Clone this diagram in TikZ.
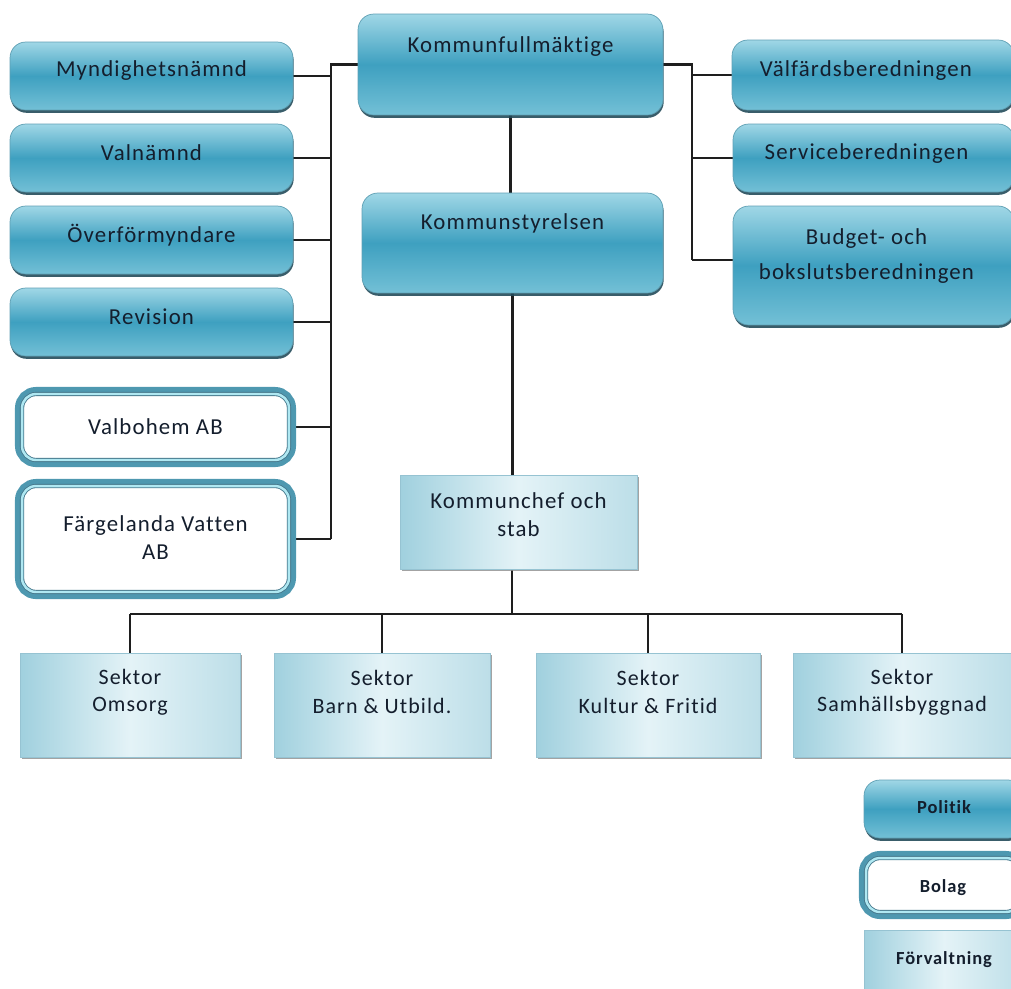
\documentclass[tikz,border=0pt]{standalone}
\usepackage{fontspec}
\setmainfont{Carlito}[LetterSpace=5, Ligatures=NoCommon]
\usetikzlibrary{shadows,backgrounds}

\definecolor{polTop}{RGB}{160,215,230}
\definecolor{polMid}{RGB}{62,160,192}
\definecolor{polBot}{RGB}{115,192,214}
\definecolor{polEdge}{RGB}{95,160,180}
\definecolor{polShadow}{RGB}{35,75,90}
\definecolor{bolRing}{RGB}{78,152,176}
\definecolor{bolCyan}{RGB}{175,232,242}
\definecolor{bolEdge}{RGB}{70,120,140}
\definecolor{forvA}{RGB}{160,208,222}
\definecolor{forvB}{RGB}{228,243,247}
\definecolor{forvEdge}{RGB}{150,195,210}
\definecolor{forvShadow}{RGB}{140,140,140}
\definecolor{lineCol}{RGB}{30,30,30}
\definecolor{txtCol}{RGB}{20,30,45}

\begin{document}
\begin{tikzpicture}[x=0.02cm, y=-0.02cm,
    every node/.style={inner sep=0pt, text=txtCol},
    every label/.style={font=\fontsize{13}{16}\selectfont, align=center},
    politik/.style={draw=polEdge, line width=0.4pt, rounded corners=9pt,
        top color=polTop, bottom color=polBot, middle color=polMid,
        drop shadow={shadow xshift=0.4pt, shadow yshift=-1.6pt, fill=polShadow, opacity=0.9}},
    bolag/.style={rounded corners=8pt, fill=white,
        preaction={draw=bolRing, line width=8pt},
        postaction={draw=bolEdge, line width=0.5pt, double=bolCyan, double distance=1.4pt}},
    forv/.style={draw=forvEdge, line width=0.3pt,
        left color=forvA, right color=forvA!70!white, middle color=forvB,
        drop shadow={shadow xshift=1.2pt, shadow yshift=-1.4pt, fill=forvShadow, opacity=0.8}},
    legend/.style={font=\fontsize{10.5}{12}\selectfont\bfseries},
    sektor/.style={font=\fontsize{12.5}{15.5}\selectfont},
    conn/.style={draw=lineCol, line width=1.2pt}]
\useasboundingbox (0,0) rectangle (1011,988);
\clip (0,0) rectangle (1011,988);

% politik
\node (kf) [politik, minimum width=6.1cm, minimum height=2.02cm] at (510.5,64.5)
    [label={[name=kf-t, yshift=10pt]center:Kommunfullmäktige}] {};
\node (ks) [politik, minimum width=6.02cm, minimum height=2cm] at (512.5,243)
    [label={[name=ks-t, yshift=11.3pt]center:Kommunstyrelsen}] {};

\node (myn) [politik, minimum width=5.66cm, minimum height=1.36cm] at (151.5,76)
    [label={[name=myn-t, yshift=3pt]center:Myndighetsnämnd}] {};
\node (val) [politik, minimum width=5.66cm, minimum height=1.36cm] at (151.5,158)
    [label={[name=val-t, yshift=3pt]center:Valnämnd}] {};
\node (over) [politik, minimum width=5.66cm, minimum height=1.36cm] at (151.5,240)
    [label={[name=over-t, yshift=3pt]center:Överförmyndare}] {};
\node (rev) [politik, minimum width=5.66cm, minimum height=1.36cm] at (151.5,322)
    [label={[name=rev-t, yshift=3pt]center:Revision}] {};

\node (vf) [politik, minimum width=5.64cm, minimum height=1.4cm] at (873,75)
    [label={[name=vf-t, yshift=2.5pt, xshift=-4pt]center:Välfärdsberedningen}] {};
\node (sb) [politik, minimum width=5.62cm, minimum height=1.36cm] at (873.5,158)
    [label={[name=sb-t, yshift=2.8pt, xshift=-4pt]center:Serviceberedningen}] {};
\node (bb) [politik, minimum width=5.62cm, minimum height=2.38cm] at (873.5,265.5)
    [label={[name=bb-t, yshift=5.4pt, xshift=-4pt]center:Budget- och\\[4pt]bokslutsberedningen}] {};

% bolag
\node (vbh) [bolag, minimum width=5.34cm, minimum height=1.32cm] at (155.5,427)
    [label={[name=vbh-t]center:Valbohem AB}] {};
\node (fvab) [bolag, minimum width=5.34cm, minimum height=2.12cm] at (155.5,539)
    [label={[name=fvab-t, yshift=1pt]center:Färgelanda Vatten\\AB}] {};

% forvaltning
\node (kc) [forv, minimum width=4.74cm, minimum height=1.88cm] at (518.5,522)
    [label={[name=kc-t, yshift=4pt]center:Kommunchef och\\stab}] {};
\node (omsorg) [forv, minimum width=4.4cm, minimum height=2.08cm] at (130,705)
    [label={[name=omsorg-t, sektor, yshift=7.4pt]center:Sektor\\Omsorg}] {};
\node (barn) [forv, minimum width=4.32cm, minimum height=2.08cm] at (382,705)
    [label={[name=barn-t, sektor, yshift=7.4pt]center:Sektor\\Barn \& Utbild.}] {};
\node (kultur) [forv, minimum width=4.48cm, minimum height=2.08cm] at (648,705)
    [label={[name=kultur-t, sektor, yshift=7.4pt]center:Sektor\\Kultur \& Fritid}] {};
\node (samh) [forv, minimum width=4.36cm, minimum height=2.08cm] at (902,705)
    [label={[name=samh-t, sektor, yshift=7.4pt]center:Sektor\\Samhällsbyggnad}] {};

% legend
\node (pol) [politik, minimum width=3.2cm, minimum height=1.16cm] at (944,809)
    [label={[name=pol-t, legend, yshift=1pt]center:Politik}] {};
\node (bol) [bolag, minimum width=3.08cm, minimum height=1.08cm] at (943,885)
    [label={[name=bol-t, legend, yshift=-1.5pt]center:Bolag}] {};
\node (forvl) [forv, minimum width=3.2cm, minimum height=1.2cm] at (944,960)
    [label={[name=forvl-t, legend]center:Förvaltning}] {};

\coordinate (lbus) at (331,0);
\coordinate (rbus) at (692,0);
\coordinate (split) at (512,614);

\begin{scope}[on background layer]
\draw[conn] (kf.west) -- (kf.west -| lbus) -- (fvab.east -| lbus);
\foreach \n in {myn,val,over,rev,vbh,fvab}
    \draw[conn] (\n.east) -- (\n.east -| lbus);
\draw[conn] (kf.east) -- (kf.east -| rbus) -- ([yshift=3pt]bb.west -| rbus);
\foreach \n in {vf,sb}
    \draw[conn] (\n.west) -- (\n.west -| rbus);
\draw[conn] ([yshift=3pt]bb.west) -- ([yshift=3pt]bb.west -| rbus);
\draw[conn] (kf.south) -- (kf.south |- ks.north);
\draw[conn] (ks.south) -- (ks.south |- kc.north);
\draw[conn] (split |- kc.south) -- (split);
\draw[conn] (omsorg.north |- split) -- (samh.north |- split);
\foreach \n in {omsorg,barn,kultur,samh}
    \draw[conn] (\n.north |- split) -- (\n.north);
\end{scope}
\end{tikzpicture}
\end{document}
